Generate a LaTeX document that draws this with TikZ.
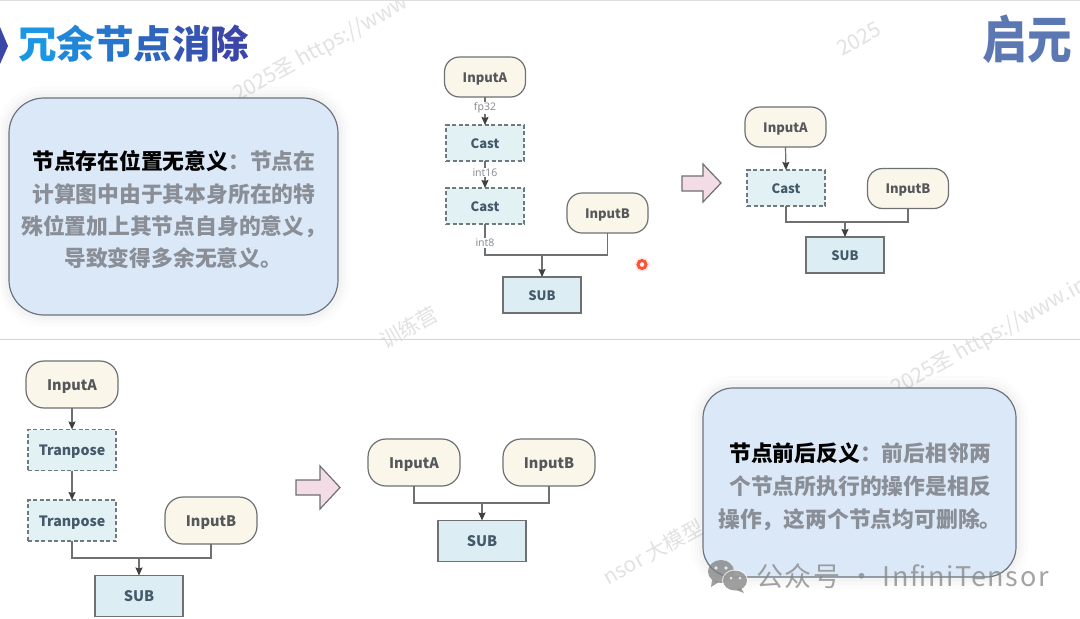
\documentclass[tikz,border=0pt]{standalone}
\usepackage{fontspec}
\usetikzlibrary{arrows.meta}
\setmainfont{Noto Sans}
\newfontfamily\cjkf{Noto Sans CJK SC}
\newfontfamily\wmf[LetterSpace=6]{Noto Sans CJK SC}
\definecolor{edgegray}{HTML}{6E7072}
\definecolor{dashgray}{HTML}{6F7A7C}
\definecolor{tipdark}{HTML}{3E4042}
\definecolor{creamfill}{HTML}{FAF7EA}
\definecolor{dashfill}{HTML}{E1F1F4}
\definecolor{subfill}{HTML}{DCEEF3}
\definecolor{panelfill}{HTML}{DBE8F7}
\definecolor{panelline}{HTML}{6C7480}
\definecolor{graytext}{HTML}{8A8E96}
\definecolor{nodetext}{HTML}{55575A}
\definecolor{tealtext}{HTML}{44596A}
\definecolor{wmark}{HTML}{E2E2E4}
\definecolor{pinkfill}{HTML}{F3DCE6}
\definecolor{logoblue}{HTML}{5C78B2}
\definecolor{sepblue}{HTML}{C8D6EE}
\definecolor{tA}{HTML}{1A96E2}
\definecolor{tB}{HTML}{1F86D8}
\definecolor{tC}{HTML}{2776CB}
\definecolor{tD}{HTML}{2E66BE}
\definecolor{tE}{HTML}{3455B2}
\definecolor{tF}{HTML}{3A46A8}
\tikzset{
  x=1pt,y=-1pt,
  boxbase/.style={line width=1.2pt,inner sep=0pt,outer sep=0pt,draw=edgegray,text depth=0pt},
  termsm/.style={boxbase,text height=10.5pt,fill=creamfill,rounded corners=15pt,minimum width=81pt,minimum height=40pt,text=nodetext,font=\cjkf\bfseries\fontsize{13}{14}\selectfont},
  termlg/.style={boxbase,text height=11.5pt,fill=creamfill,rounded corners=18pt,minimum width=92pt,minimum height=47pt,text=nodetext,font=\cjkf\bfseries\fontsize{14.5}{16}\selectfont},
  dashsm/.style={boxbase,text height=10.5pt,draw=dashgray,dashed,dash pattern=on 4pt off 2.5pt,fill=dashfill,minimum width=78pt,minimum height=36pt,text=tealtext,font=\cjkf\bfseries\fontsize{13}{14}\selectfont},
  dashlg/.style={boxbase,text height=11.5pt,draw=dashgray,dashed,dash pattern=on 4pt off 2.5pt,fill=dashfill,minimum width=88pt,minimum height=41pt,text=tealtext,font=\cjkf\bfseries\fontsize{14.2}{16}\selectfont},
  subsm/.style={boxbase,text height=10.5pt,fill=subfill,minimum width=78pt,minimum height=36pt,text=tealtext,font=\cjkf\bfseries\fontsize{13}{14}\selectfont},
  sublg/.style={boxbase,text height=11.5pt,fill=subfill,minimum width=88pt,minimum height=41pt,text=tealtext,font=\cjkf\bfseries\fontsize{14.5}{16}\selectfont},
  conn/.style={draw=edgegray,line width=1.2pt},
  arr/.style={conn,-{Stealth[length=8pt,width=7pt,inset=1pt,color=tipdark]}},
  lbl/.style={fill=white,inner sep=0.6pt,text=graytext,font=\fontsize{10.5}{12}\selectfont},
  panel/.style={draw=panelline,fill=panelfill,line width=1.2pt,
    preaction={draw=black,opacity=.012,line width=24pt},
    preaction={draw=black,opacity=.015,line width=16pt},
    preaction={draw=black,opacity=.02,line width=9pt}},
  bigarrow/.style={draw=edgegray,fill=pinkfill,line width=1.2pt,line join=miter},
  ptext/.style={anchor=base west,inner sep=0pt,text=graytext,font=\cjkf\bfseries\fontsize{21.8}{24}\selectfont},
  wm/.style={anchor=base west,inner sep=0pt,text=wmark,rotate=29,font=\cjkf\fontsize{21}{23}\selectfont},
}
\begin{document}
\begin{tikzpicture}
\useasboundingbox (0,0) rectangle (1080,619);
\clip (0,0) rectangle (1080,619);
\fill[white] (0,0) rectangle (1080,619);
% watermarks
\node[wm] (w1) at (238,102) {2025圣 https://www};
\node[wm] (w2) at (842,57) {2025};
\node[wm] (w3) at (896,396) {2025圣 https://www.in};
\node[wm] (w4) at (385,350) {训练营};
\node[wm] (w5) at (608,586) {nsor 大模型};
% frame lines
\draw[line width=1.5pt,color=black!13] (0,0.5) -- (1080,0.5);
\draw[line width=1.5pt,color=sepblue] (0,339.5) -- (1080,339.5);
% title
\fill[tF] (0,27) -- (8,46) -- (0,64) -- cycle;
\node[anchor=base west,inner sep=0pt,font=\cjkf\bfseries\fontsize{38.5}{40}\selectfont] (title) at (18,58)
  {\textcolor{tA}{冗}\textcolor{tB}{余}\textcolor{tC}{节}\textcolor{tD}{点}\textcolor{tE}{消}\textcolor{tF}{除}};
% logo
\node[inner sep=0pt,text=logoblue,xscale=.93,yscale=1.06,font=\cjkf\bfseries\fontsize{48}{50}\selectfont] (logo) at (1027.5,39) {启元};
% top-left panel
\draw[panel,rounded corners=35pt] (9,98) rectangle (338,315);
\node[ptext] (p1) at (32,169) {\textcolor{black}{节点存在位置无意义}：节点在};
\node[ptext] (p2) at (32,202) {计算图中由于其本身所在的特};
\node[ptext] (p3) at (21,234) {殊位置加上其节点自身的意义，};
\node[ptext] (p4) at (64,266) {导致变得多余无意义。};
% top-middle graph
\node[termsm] (a1) at (485,77) {InputA};
\node[dashsm] (c1) at (485,143) {Cast};
\node[dashsm] (c2) at (485,206) {Cast};
\node[termsm] (b1) at (607.5,213) {InputB};
\node[subsm] (s1) at (542,295) {SUB};
\coordinate (m1) at (542,255);
\draw[arr] (a1.south) -- node[lbl,pos=.39] (l1) {fp32} (c1.north);
\draw[arr] (c1.south) -- node[lbl,pos=.42] (l2) {int16} (c2.north);
\draw[conn] (c2.south) |- (m1) -| (b1.south);
\draw[arr] (m1) -- (s1.north);
\node[lbl] (l3) at (485,243) {int8};
% red pointer
\node[circle,draw=red!70!orange!80,fill=white,line width=3pt,minimum size=8pt,inner sep=0pt,
  preaction={draw=red,opacity=.08,line width=7pt}] (dot) at (642,264.5) {};
% top arrow
\draw[bigarrow] (682,176) -- (703,176) -- (703,164) -- (721,183) -- (703,202) -- (703,191) -- (682,191) -- cycle;
% top-right graph
\node[termsm] (a2) at (785.5,127) {InputA};
\node[dashsm] (c3) at (786,188) {Cast};
\node[termsm] (b2) at (908,188.5) {InputB};
\node[subsm] (s2) at (845,255) {SUB};
\coordinate (m2) at (845,222);
\draw[arr] (a2.south) -- (c3.north);
\draw[conn] (c3.south) |- (m2) -| (b2.south);
\draw[arr] (m2) -- (s2.north);
% bottom-left graph
\node[termlg] (a3) at (72,384.5) {InputA};
\node[dashlg] (t1) at (72,450) {Tranpose};
\node[dashlg] (t2) at (72,520.5) {Tranpose};
\node[termlg] (b3) at (211,520.5) {InputB};
\node[sublg] (s3) at (139,596) {SUB};
\coordinate (m3) at (139,558);
\draw[arr] (a3.south) -- (t1.north);
\draw[arr] (t1.south) -- (t2.north);
\draw[conn] (t2.south) |- (m3) -| (b3.south);
\draw[arr] (m3) -- (s3.north);
% bottom arrow
\draw[bigarrow] (296,480) -- (320,480) -- (320,466) -- (340,487.5) -- (320,509) -- (320,495) -- (296,495) -- cycle;
% bottom-middle graph
\node[termlg] (a4) at (414,462.5) {InputA};
\node[termlg] (b4) at (549,462.5) {InputB};
\node[sublg] (s4) at (482,541) {SUB};
\coordinate (m4) at (482,503);
\draw[conn] (a4.south) |- (m4) -| (b4.south);
\draw[arr] (m4) -- (s4.north);
% bottom-right panel
\draw[panel,rounded corners=30pt] (703,388) rectangle (1016,577);
\node[ptext] (q1) at (729,461) {\textcolor{black}{节点前后反义}：前后相邻两};
\node[ptext] (q2) at (729,494) {个节点所执行的操作是相反};
\node[ptext] (q3) at (718,527) {操作，这两个节点均可删除。};
% footer mark
\begin{scope}[opacity=.75]
\fill[black!50] (721,571.5) ellipse (13pt and 11.5pt);
\fill[black!50] (712,580) -- (711,587) -- (719,582) -- cycle;
\fill[white] (735,580.5) ellipse (13pt and 11pt);
\fill[black!50] (735,580.5) ellipse (12pt and 10pt);
\fill[black!50] (741,588) -- (744,593) -- (736,590) -- cycle;
\fill[white] (716,568) circle (1.8pt) (726,568) circle (1.8pt) (731,578) circle (1.5pt) (740,578) circle (1.5pt);
\node[anchor=base west,inner sep=0pt,text=black!48,font=\wmf\fontsize{27}{29}\selectfont] (foot) at (756,586) {公众号 · InfiniTensor};
\end{scope}
\end{tikzpicture}
\end{document}
